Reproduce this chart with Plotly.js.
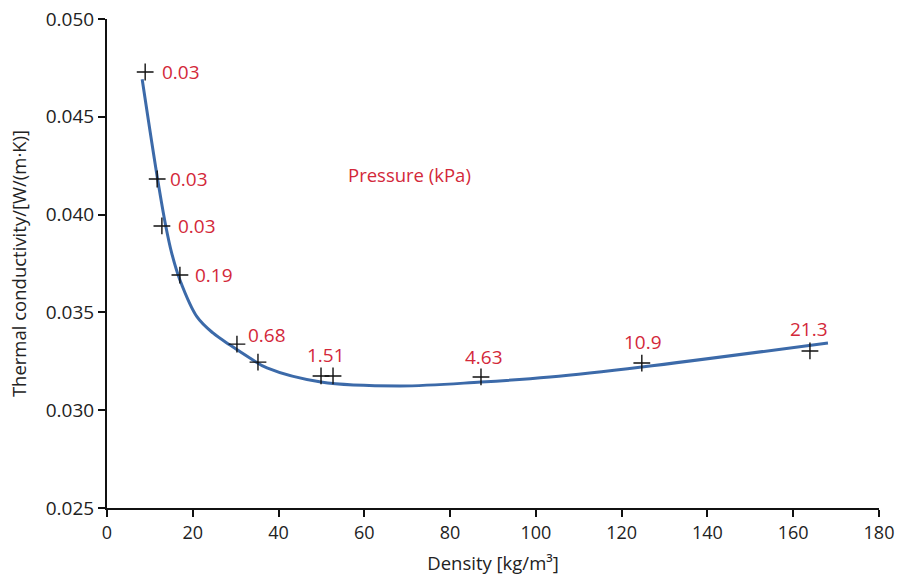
<!DOCTYPE html>
<html>
<head>
<meta charset="utf-8">
<script src="https://cdn.plot.ly/plotly-3.0.1.min.js"></script>
<style>html,body{margin:0;padding:0;background:#fff;}#chart{width:909px;height:579px;}</style>
</head>
<body>
<div id="chart"></div>
<script>
// Measured points (density, thermal conductivity)
const density = [8.9, 11.7, 12.8, 17.0, 30.3, 35.2, 49.9, 52.7, 87.2, 124.7, 163.9];
const conductivity = [0.04729, 0.04182, 0.03942, 0.03691, 0.03338, 0.03246, 0.03175, 0.03175, 0.03170, 0.03241, 0.03303];
// Pressure labels (kPa); empty = unlabelled point
const pressure = ["0.03", "0.03", "0.03", "0.19", "0.68", "", "1.51", "", "4.63", "10.9", "21.3"];

// Fitted curve
const fitDensity = [8.2, 11.8, 13.7, 15.1, 17.0, 21.0, 24.7, 28.7, 33.3, 37.3, 49.9, 68.3, 87.2, 103.3, 124.7, 168.1];
const fitConductivity = [0.04692, 0.04181, 0.03942, 0.03802, 0.03666, 0.03477, 0.03395, 0.03333, 0.03267, 0.03216, 0.03144, 0.03124, 0.03144, 0.03170, 0.03221, 0.03344];

const xTicks = [0, 20, 40, 60, 80, 100, 120, 140, 160, 180];
const yTicks = [0.025, 0.030, 0.035, 0.040, 0.045, 0.050];

// label offsets in pixels (style)
const labelStyle = [
  {xanchor: 'left', xshift: 15, yshift: 0},
  {xanchor: 'left', xshift: 11, yshift: 0},
  {xanchor: 'left', xshift: 14, yshift: 0},
  {xanchor: 'left', xshift: 13, yshift: 0},
  {xanchor: 'left', xshift: 9, yshift: 9},
  null,
  {xanchor: 'center', xshift: 5, yshift: 21},
  null,
  {xanchor: 'center', xshift: 3, yshift: 20},
  {xanchor: 'center', xshift: 1, yshift: 21},
  {xanchor: 'center', xshift: -1, yshift: 22}
];

const red = '#d3283a';
const annotations = [];
pressure.forEach((t, i) => {
  if (!t) return;
  const s = labelStyle[i];
  annotations.push({
    x: density[i], y: conductivity[i], xref: 'x', yref: 'y',
    text: t, showarrow: false, xanchor: s.xanchor, yanchor: 'middle',
    xshift: s.xshift, yshift: s.yshift,
    font: {family: 'Open Sans, sans-serif', size: 19, color: red}
  });
});
annotations.push({
  x: 0.309, y: 0.683, xref: 'paper', yref: 'paper',
  text: 'Pressure (kPa)', showarrow: false, xanchor: 'left', yanchor: 'middle',
  font: {family: 'Open Sans, sans-serif', size: 18.5, color: red}
});

const traces = [
  {
    x: fitDensity, y: fitConductivity, type: 'scatter', mode: 'lines',
    line: {color: '#3c6aa9', width: 3, shape: 'spline', smoothing: 1},
    hoverinfo: 'skip'
  },
  {
    x: density, y: conductivity, type: 'scatter', mode: 'markers',
    marker: {symbol: 'cross-thin-open', size: 12, color: '#111', line: {color: '#111', width: 1.4}}
  }
];

const layout = {
  width: 909, height: 579,
  margin: {l: 107, r: 30, t: 19, b: 71},
  paper_bgcolor: '#fff', plot_bgcolor: '#fff',
  showlegend: false,
  font: {family: 'Open Sans, sans-serif', size: 18, color: '#222'},
  xaxis: {
    range: [0, 180], tickvals: xTicks, ticktext: xTicks.map(String),
    showgrid: false, zeroline: false, showline: true, linecolor: '#111', linewidth: 2,
    ticks: 'outside', ticklen: 7, tickwidth: 2, tickcolor: '#111',
    tickfont: {size: 18, color: '#222'},
    title: {text: 'Density [kg/m³]', font: {size: 18.5, color: '#222'}, standoff: 14}
  },
  yaxis: {
    range: [0.025, 0.050], tickvals: yTicks, ticktext: yTicks.map(v => v.toFixed(3)),
    showgrid: false, zeroline: false, showline: true, linecolor: '#111', linewidth: 2,
    ticks: 'outside', ticklen: 7, tickwidth: 2, tickcolor: '#111',
    tickfont: {size: 19, color: '#222'},
    title: {text: 'Thermal conductivity/[W/(m·K)]', font: {size: 18.5, color: '#222'}, standoff: 14}
  },
  annotations: annotations
};

Plotly.newPlot('chart', traces, layout, {displayModeBar: false, staticPlot: true});
</script>
</body>
</html>
